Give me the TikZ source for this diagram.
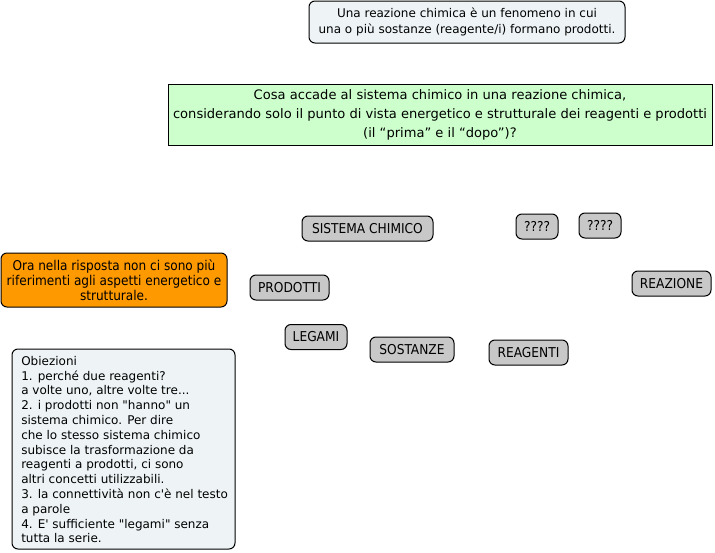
\documentclass[tikz,border=0pt]{standalone}
\usepackage{fontspec}
\setmainfont{DejaVu Sans}
\newfontfamily\cond{DejaVu Sans Condensed}
\usepackage{xcolor}

\begin{document}
\begin{tikzpicture}[x=0.75pt,y=-0.75pt,
  concetto/.style={draw,rounded corners=4.5pt,fill=grigio,line width=0.75pt,
    minimum height=18.75pt,inner sep=0pt,font=\cond\fontsize{10.2}{12}\selectfont},
  nota/.style={draw,rounded corners=4.5pt,line width=0.75pt,inner sep=0pt}]
\definecolor{grigio}{HTML}{C8C8C8}
\definecolor{azzurrino}{HTML}{EEF4F6}
\definecolor{verdino}{HTML}{CCFFCC}
\definecolor{arancio}{HTML}{FF9900}
\fill[white] (0,0) rectangle (715,553);
\useasboundingbox (0,0) rectangle (715,553);
% domanda e definizione
\node[nota,fill=azzurrino,minimum width=237pt,minimum height=31.5pt,align=center,
  font=\fontsize{9}{12}\selectfont] (definizione) at (467,22)
  {Una reazione chimica è un fenomeno in cui\\una o più sostanze (reagente/i) formano prodotti.};
\node[draw,fill=verdino,line width=0.75pt,minimum width=408pt,minimum height=45.75pt,
  inner sep=0pt,align=center,font=\fontsize{9.8}{14.25}\selectfont] (domanda) at (440,114.5)
  {Cosa accade al sistema chimico in una reazione chimica,\\considerando solo il punto di vista energetico e strutturale dei reagenti e prodotti\\(il “prima” e il “dopo”)?};
% concetti
  \foreach \nome/\testo/\cx/\cy/\w in {sistema/SISTEMA CHIMICO/367.5/228.5/131,
    dubbioa/????/537/226.5/42,dubbiob/????/600/225.5/42,
    prodotti/PRODOTTI/289.5/287.5/79,reazione/REAZIONE/671.5/283.5/79,
    legami/LEGAMI/316/337/62,sostanze/SOSTANZE/412/349.5/84,
    reagenti/REAGENTI/528.5/352.5/79}
  {  \node [concetto,minimum width=\w*0.75pt] (\nome) at (\cx,\cy) {\testo};}
% commenti
\node[nota,fill=arancio,minimum width=169.5pt,minimum height=40.5pt,align=center,
  font=\cond\fontsize{10.1}{11.25}\selectfont] (risposta) at (114,280)
  {Ora nella risposta non ci sono più\\riferimenti agli aspetti energetico e\\strutturale.};
\node[nota,fill=azzurrino,minimum width=167.25pt,minimum height=150pt] (obiezioni) at (123.5,449) {};
\node[anchor=north west,align=left,inner sep=0pt,font=\fontsize{9}{11.1}\selectfont]
  (testoobiezioni) at (21,356)
  {Obiezioni\\1. perché due reagenti?\\a volte uno, altre volte tre...\\2. i prodotti non \textquotedbl hanno\textquotedbl{} un\\sistema chimico. Per dire\\che lo stesso sistema chimico\\subisce la trasformazione da\\reagenti a prodotti, ci sono\\altri concetti utilizzabili.\\3. la connettività non c\textquotesingle è nel testo\\a parole\\4. E\textquotesingle{} sufficiente \textquotedbl legami\textquotedbl{} senza\\tutta la serie.};
\end{tikzpicture}
\end{document}
